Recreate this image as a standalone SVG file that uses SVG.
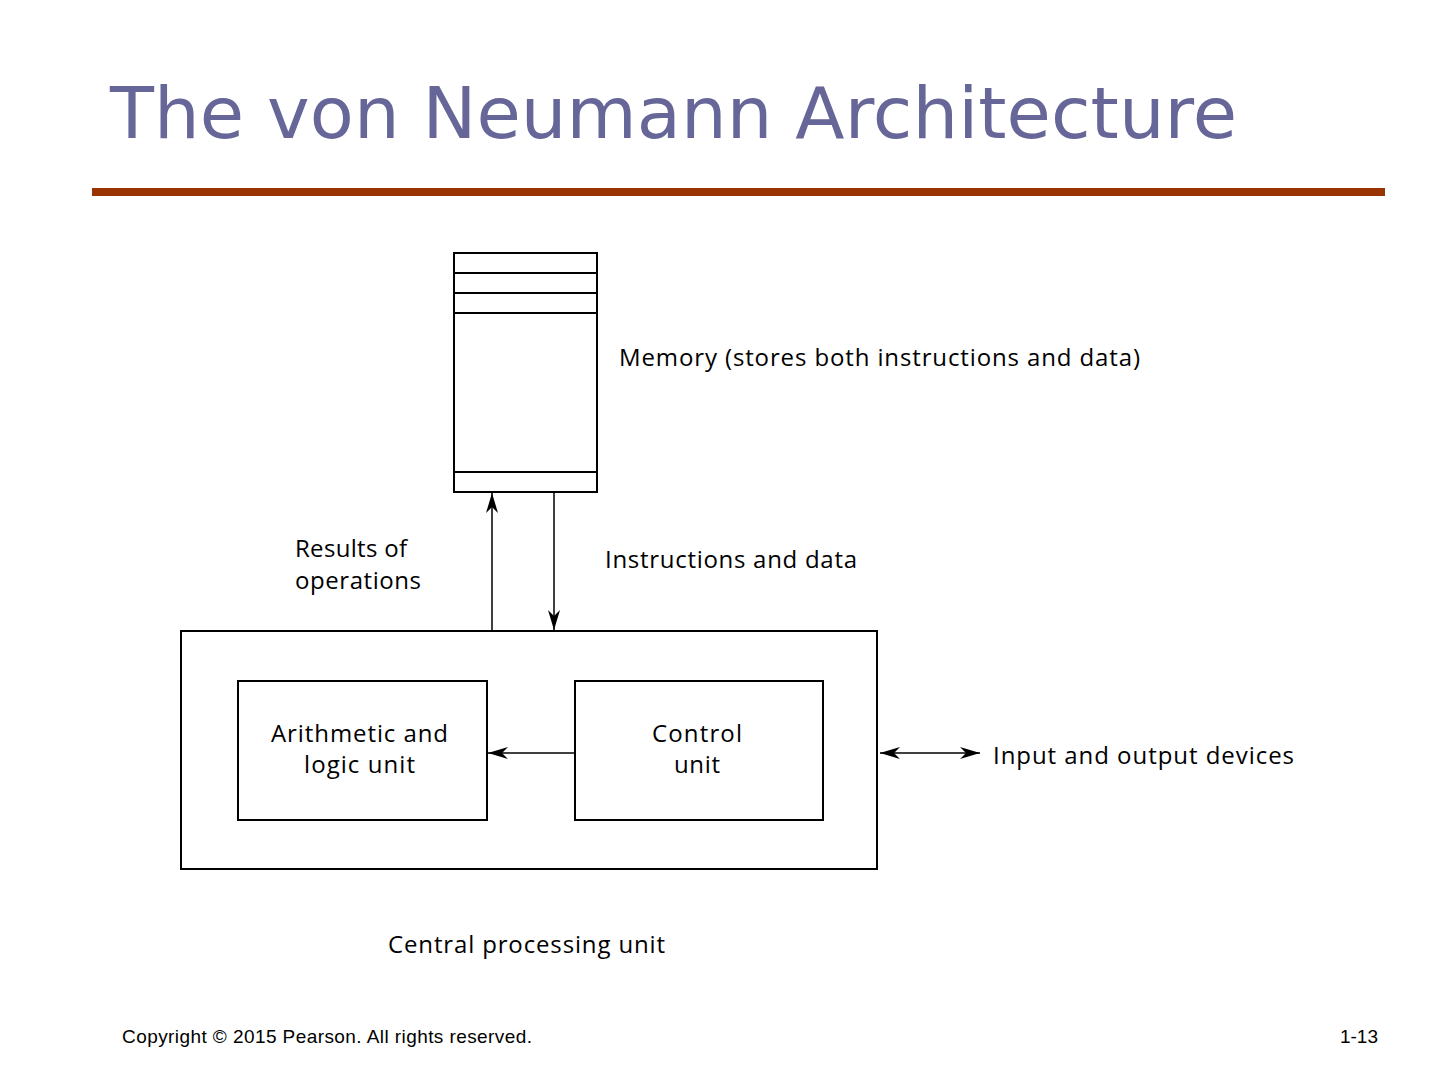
<svg xmlns="http://www.w3.org/2000/svg" width="1440" height="1080" viewBox="0 0 1440 1080">
<style>
.lbl{font-family:"Open Sans","Liberation Sans",sans-serif;font-size:24px;fill:#000}
.box{fill:none;stroke:#000;stroke-width:2}
.ln{stroke:#000;stroke-width:1.5;fill:none}
.foot{font-family:"Liberation Sans",Arial,sans-serif;font-size:19px;fill:#000}
</style>
<defs>
<marker id="ah2" viewBox="0 0 20 12" refX="20" refY="6" markerWidth="20" markerHeight="12" markerUnits="userSpaceOnUse" orient="auto-start-reverse">
<path d="M0,0 L20,6 L0,12 L6,6 Z" fill="#000"/>
</marker>
</defs>
<rect width="1440" height="1080" fill="#fff"/>
<text x="110" y="138" font-family="DejaVu Sans,sans-serif" font-size="72" fill="#666699" textLength="1127" lengthAdjust="spacing">The von Neumann Architecture</text>
<rect x="92" y="188" width="1293" height="8" fill="#993300"/>

<g id="memory">
<rect class="box" x="454" y="253" width="143" height="239"/>
<line class="box" x1="454" y1="273" x2="597" y2="273"/>
<line class="box" x1="454" y1="293" x2="597" y2="293"/>
<line class="box" x1="454" y1="313" x2="597" y2="313"/>
<line class="box" x1="454" y1="472" x2="597" y2="472"/>
<text class="lbl" x="619" y="366" textLength="521" lengthAdjust="spacing">Memory (stores both instructions and data)</text>
</g>
<g id="cpu">
<rect class="box" x="181" y="631" width="696" height="238"/>
<text class="lbl" x="388" y="953" textLength="277" lengthAdjust="spacing">Central processing unit</text>
</g>
<g id="alu">
<rect class="box" x="238" y="681" width="249" height="139"/>
<text class="lbl" x="271" y="742" textLength="177" lengthAdjust="spacing">Arithmetic and</text>
<text class="lbl" x="304" y="773" textLength="111" lengthAdjust="spacing">logic unit</text>
</g>
<g id="control">
<rect class="box" x="575" y="681" width="248" height="139"/>
<text class="lbl" x="652" y="742" textLength="90" lengthAdjust="spacing">Control</text>
<text class="lbl" x="674" y="773" textLength="46" lengthAdjust="spacing">unit</text>
</g>
<g id="io">
<text class="lbl" x="993" y="764" textLength="301" lengthAdjust="spacing">Input and output devices</text>
</g>
<g id="connectors">
<line class="ln" x1="492" y1="630" x2="492" y2="493" marker-end="url(#ah2)"/>
<line class="ln" x1="554" y1="492" x2="554" y2="630" stroke-width="2" marker-end="url(#ah2)"/>
<line class="ln" x1="575" y1="753" x2="488" y2="753" marker-end="url(#ah2)"/>
<line class="ln" x1="880" y1="753" x2="980" y2="753" marker-start="url(#ah2)" marker-end="url(#ah2)"/>
<text class="lbl" x="295" y="557" textLength="112" lengthAdjust="spacing">Results of</text>
<text class="lbl" x="295" y="589" textLength="126" lengthAdjust="spacing">operations</text>
<text class="lbl" x="605" y="568" textLength="252" lengthAdjust="spacing">Instructions and data</text>
</g>
<text class="foot" x="122" y="1043" textLength="410" lengthAdjust="spacing">Copyright © 2015 Pearson. All rights reserved.</text>
<text class="foot" x="1378" y="1043" text-anchor="end">1-13</text>
</svg>
